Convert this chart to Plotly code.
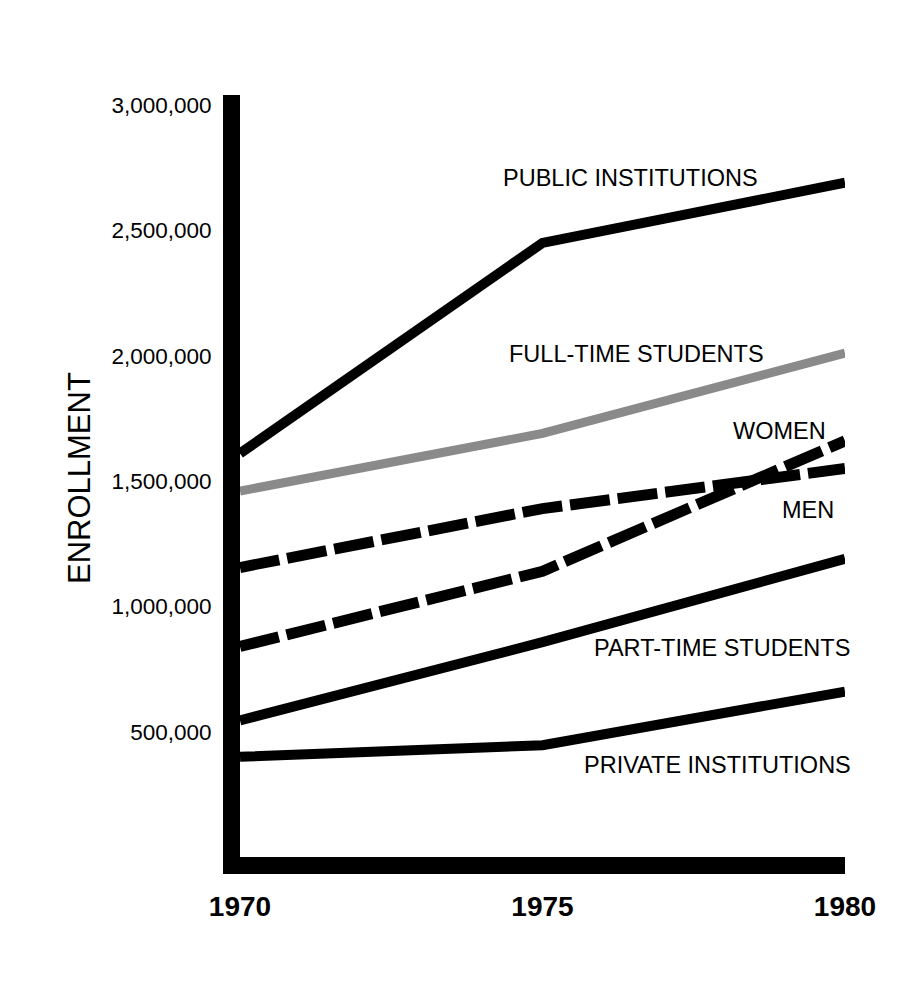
import plotly.graph_objects as go

years = [1970, 1975, 1980]
public_inst = [1610000, 2450000, 2690000]
full_time = [1460000, 1690000, 2010000]
men = [1155000, 1390000, 1550000]
women = [840000, 1140000, 1660000]
part_time = [545000, 857000, 1190000]
private_inst = [400000, 446000, 660000]

y_ticks = [500000, 1000000, 1500000, 2000000, 2500000, 3000000]
y_tick_text = ["500,000", "1,000,000", "1,500,000", "2,000,000", "2,500,000", "3,000,000"]
x_ticks = [1970, 1975, 1980]
x_tick_text = ["1970", "1975", "1980"]

labels = [
    ("PUBLIC INSTITUTIONS", 1976.46, 2708000),
    ("FULL-TIME STUDENTS", 1976.56, 2005000),
    ("WOMEN", 1978.91, 1700000),
    ("MEN", 1979.39, 1384000),
    ("PART-TIME STUDENTS", 1977.97, 834000),
    ("PRIVATE INSTITUTIONS", 1977.90, 367000),
]

FONT = "Liberation Sans, Arial, Helvetica, sans-serif"

W, H = 902, 993
L, R, T, B = 232, 65, 87, 144

fig = go.Figure()
fig.add_trace(go.Scatter(x=years, y=full_time, mode="lines",
                         line=dict(color="#8a8a8a", width=9), name="Full-time students"))
fig.add_trace(go.Scatter(x=years, y=public_inst, mode="lines",
                         line=dict(color="black", width=10), name="Public institutions"))
fig.add_trace(go.Scatter(x=years, y=men, mode="lines",
                         line=dict(color="black", width=11, dash="40px,8px"), name="Men"))
fig.add_trace(go.Scatter(x=years, y=women, mode="lines",
                         line=dict(color="black", width=11, dash="40px,8px"), name="Women"))
fig.add_trace(go.Scatter(x=years, y=part_time, mode="lines",
                         line=dict(color="black", width=10), name="Part-time students"))
fig.add_trace(go.Scatter(x=years, y=private_inst, mode="lines",
                         line=dict(color="black", width=10), name="Private institutions"))

for text, lx, ly in labels:
    fig.add_annotation(x=lx, y=ly, xref="x", yref="y", text=text, showarrow=False,
                       xanchor="center", yanchor="middle",
                       font=dict(family=FONT, size=23.5, color="black"))

fig.add_annotation(x=(72 - L) / (W - L - R), y=1 - (470 - T) / (H - T - B),
                   xref="paper", yref="paper", text="ENROLLMENT",
                   showarrow=False, textangle=-90, xanchor="center", yanchor="middle",
                   font=dict(family=FONT, size=31, color="black"))

fig.update_layout(
    width=W, height=H,
    margin=dict(l=L, r=R, t=T, b=B),
    paper_bgcolor="white", plot_bgcolor="white",
    showlegend=False,
    xaxis=dict(range=[1970, 1980], tickvals=x_ticks, ticktext=x_tick_text,
               showgrid=False, zeroline=False, showline=True, linecolor="black",
               linewidth=17, ticks="", tickfont=dict(family=FONT, size=28, color="black",
                                                      weight="bold"),
               ticklabelstandoff=8),
    yaxis=dict(range=[0, 3040000], tickvals=y_ticks, ticktext=y_tick_text,
               showgrid=False, zeroline=False, showline=True, linecolor="black",
               linewidth=17, ticks="", tickfont=dict(family=FONT, size=22.5, color="black"),
               ticklabelstandoff=7),
)

fig.write_html("out.html")
